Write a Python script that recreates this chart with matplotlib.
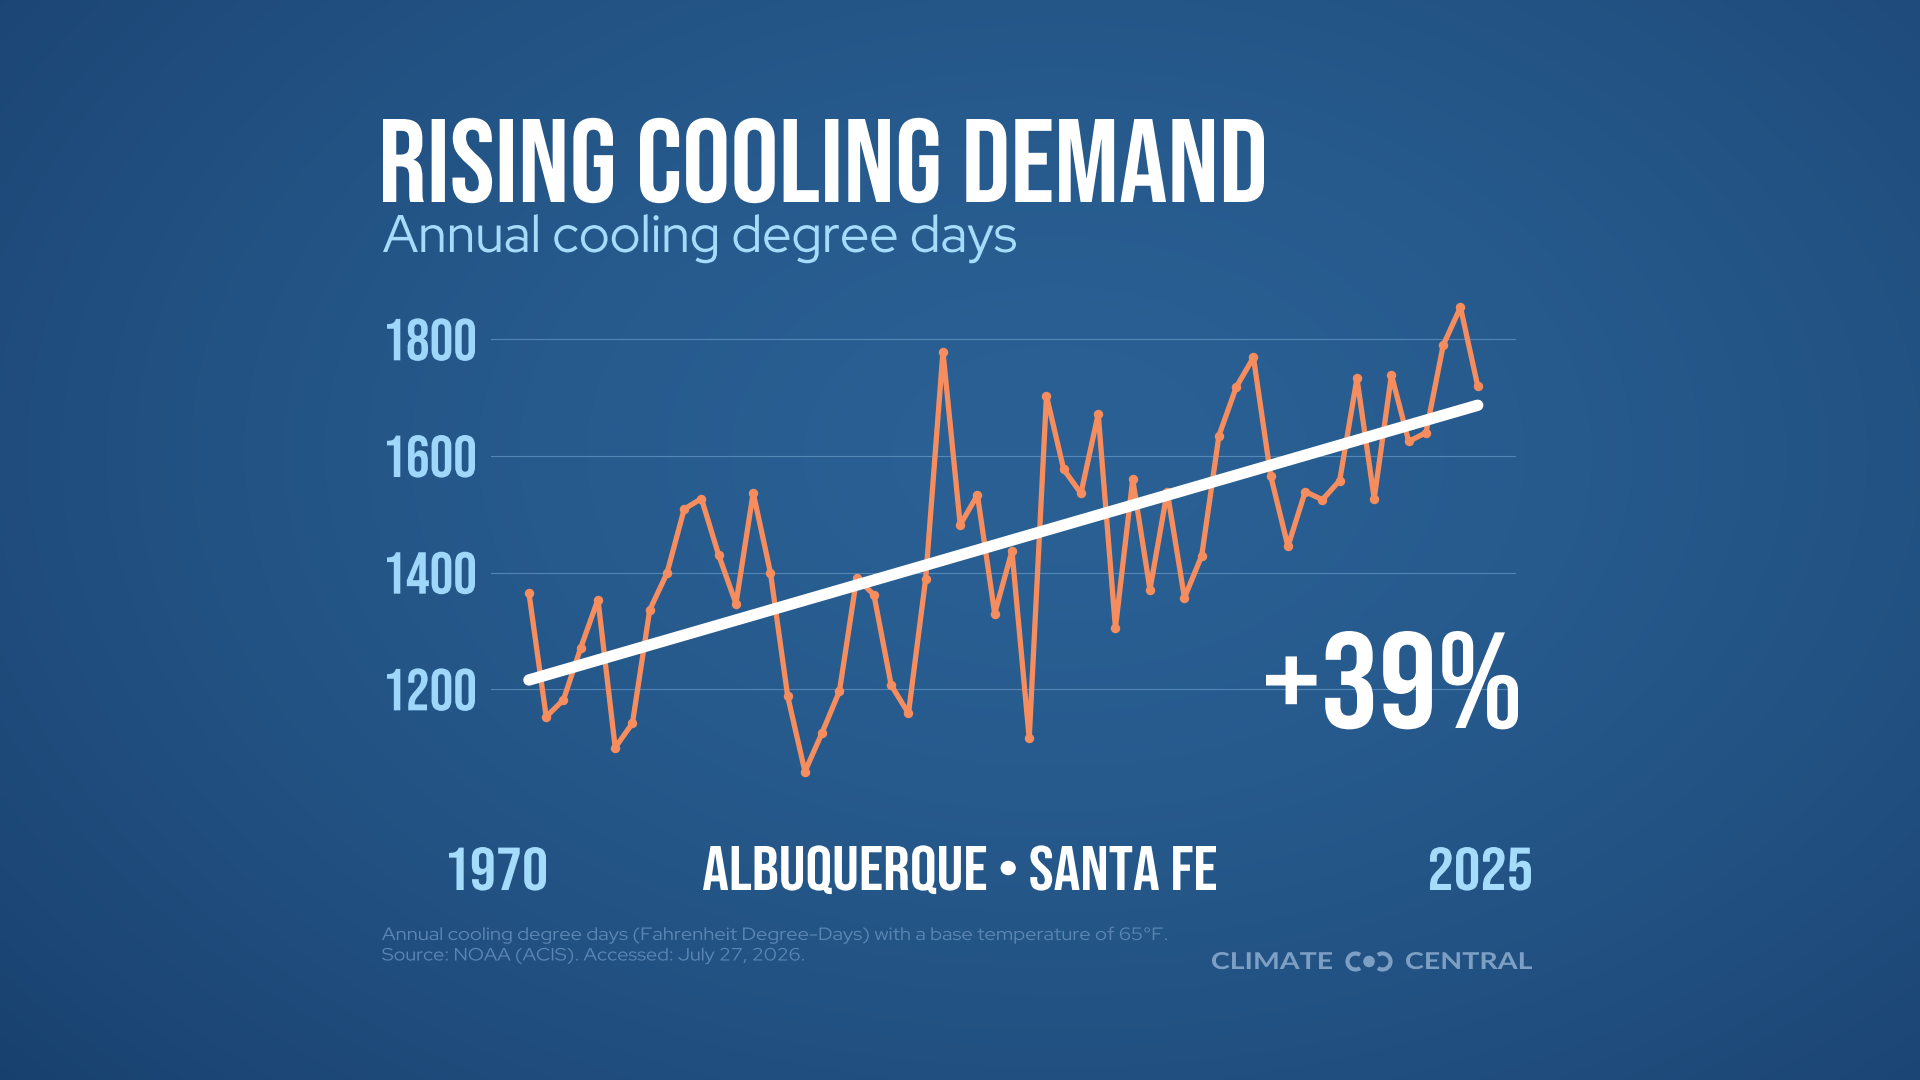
import numpy as np
import matplotlib
matplotlib.use("Agg")
import matplotlib.pyplot as plt
from matplotlib import font_manager
from matplotlib.font_manager import FontProperties
from matplotlib.textpath import TextPath
from matplotlib.patheffects import AbstractPathEffect
from matplotlib.transforms import Affine2D, ScaledTranslation, blended_transform_factory
from matplotlib.patches import Circle, Arc

# ---------------- data ----------------
years = list(range(1970, 2026))
cooling_degree_days = [
    1365, 1153, 1182, 1271, 1354, 1100, 1142, 1336, 1399, 1509,
    1527, 1430, 1347, 1537, 1400, 1188, 1059, 1126, 1197, 1391,
    1362, 1207, 1159, 1390, 1779, 1482, 1533, 1330, 1437, 1116,
    1703, 1577, 1536, 1672, 1305, 1560, 1371, 1539, 1357, 1429,
    1635, 1718, 1769, 1566, 1445, 1539, 1525, 1558, 1733, 1527,
    1739, 1625, 1640, 1790, 1855, 1720,
]
trend_years = [1970, 2025]
trend_values = [1216, 1687]
y_ticks = [1200, 1400, 1600, 1800]
y_tick_labels = ["1200", "1400", "1600", "1800"]

title = "RISING COOLING DEMAND"
subtitle = "Annual cooling degree days"
location = "ALBUQUERQUE \u2022 SANTA FE"
start_label = "1970"
end_label = "2025"
change_label = "+39%"
note_line1 = "Annual cooling degree days (Fahrenheit Degree-Days) with a base temperature of 65\u00b0F."
note_line2 = "Source: NOAA (ACIS). Accessed: July 27, 2026."
brand_left = "CLIMATE"
brand_right = "CENTRAL"

# ---------------- setup ----------------
DPI = 100
W, H = 1920, 1080
fig = plt.figure(figsize=(W / DPI, H / DPI), dpi=DPI)


def _w(f):
    w = f.weight
    if isinstance(w, str):
        w = font_manager.weight_dict.get(w, 400)
    return w


def pick(cands, minw=0):
    for c in cands:
        if any(f.name == c and _w(f) >= minw for f in font_manager.fontManager.ttflist):
            return c
    return "DejaVu Sans"


COND = pick(["Bebas Neue", "Oswald", "Roboto Condensed", "Liberation Sans Narrow",
             "Roboto", "Inter", "DejaVu Sans"])
SANS = pick(["Red Hat Display", "Lato", "Open Sans", "Noto Sans"])
BRAND = pick(["Red Hat Display", "Montserrat", "Lato", "Inter", "Open Sans"], 700)


class HScale(AbstractPathEffect):
    """Horizontally scale text glyphs around the line origin."""

    def __init__(self, sx):
        super().__init__()
        self.sx = sx

    def draw_path(self, renderer, gc, tpath, affine, rgbFace=None):
        renderer.draw_path(gc, tpath, Affine2D().scale(self.sx, 1.0) + affine, rgbFace)


def fit_params(s, family, weight, cap_px, width_px, ref="H"):
    fp = FontProperties(family=family, weight=weight)
    ext_ref = TextPath((0, 0), ref, size=100, prop=fp).get_extents()
    size_px = cap_px / (ext_ref.y1 / 100.0)
    ext = TextPath((0, 0), s, size=size_px, prop=fp).get_extents()
    sx = width_px / ext.width if width_px else 1.0
    return fp, size_px, sx, ext.x0


def put_text(ax, x, y, s, family, weight, cap_px, width_px, color, ref="H",
             transform=None, params=None, zorder=5):
    if params is None:
        fp, size_px, sx, x0 = fit_params(s, family, weight, cap_px, width_px, ref)
    else:
        fp, size_px, sx = params
        x0 = TextPath((0, 0), s, size=size_px, prop=fp).get_extents().x0
    if transform is None:
        transform = ax.transData
    tr = transform + ScaledTranslation(-x0 * sx / DPI, 0, fig.dpi_scale_trans)
    return ax.text(x, y, s, fontproperties=fp, fontsize=size_px * 72.0 / DPI,
                   color=color, ha="left", va="baseline", transform=tr,
                   path_effects=[HScale(sx)], clip_on=False, zorder=zorder)


# ---------------- background ----------------
ax_bg = fig.add_axes([0, 0, 1, 1], zorder=0)
ax_bg.set_axis_off()
gx, gy = np.meshgrid(np.linspace(0, 1, 480), np.linspace(0, 1, 270))
c_center = np.array([0x2a, 0x60, 0x94]) / 255.0
c_edge = np.array([0x16, 0x3c, 0x69]) / 255.0
d = np.sqrt(((gx - 0.55) / 0.80) ** 2 + ((gy - 0.42) / 0.95) ** 2)
t = np.clip(d, 0, 1) ** 1.6
img = c_center[None, None, :] * (1 - t[..., None]) + c_edge[None, None, :] * t[..., None]
ax_bg.imshow(img, extent=[0, 1, 0, 1], aspect="auto", origin="upper",
             interpolation="bicubic")
ax_bg.set_xlim(0, 1)
ax_bg.set_ylim(0, 1)

# ---------------- chart ----------------
px_left, px_right = 491, 1516
px_top, px_bottom = 298.5, 806.0
ax = fig.add_axes([px_left / W, 1 - px_bottom / H, (px_right - px_left) / W,
                   (px_bottom - px_top) / H], zorder=1)
ax.patch.set_alpha(0)
ax.set_xlim(1967.8, 2027.22)
ax.set_ylim(1000, 1870)
for sp in ax.spines.values():
    sp.set_visible(False)
ax.set_xticks([])
ax.set_yticks(y_ticks)
ax.set_yticklabels([])
ax.tick_params(length=0)
ax.grid(axis="y", color="#8dbbe6", alpha=0.45, linewidth=0.8)
ax.set_axisbelow(True)

ax.plot(years, cooling_degree_days, color="#f68d5e", linewidth=3.8,
        marker="o", markersize=6.8, markeredgewidth=0, zorder=3,
        solid_joinstyle="round")
ax.plot(trend_years, trend_values, color="white", linewidth=8.2,
        solid_capstyle="round", zorder=4)

# y tick labels (condensed)
tick_fp, tick_size, tick_sx, _ = fit_params("1800", COND, "bold", 42, 88, ref="0")
ytrans = blended_transform_factory(ax.transAxes, ax.transData) + \
    ScaledTranslation(0, -21.0 / DPI, fig.dpi_scale_trans)
for v, lab in zip(y_ticks, y_tick_labels):
    put_text(ax, (387 - px_left) / (px_right - px_left), v, lab, COND, "bold",
             42, None, "#9fd7fb", transform=ytrans,
             params=(tick_fp, tick_size, tick_sx))

# ---------------- foreground texts ----------------
ax_fg = fig.add_axes([0, 0, 1, 1], zorder=3)
ax_fg.set_axis_off()
ax_fg.patch.set_alpha(0)
ax_fg.set_xlim(0, W)
ax_fg.set_ylim(H, 0)

put_text(ax_fg, 383, 202, title, COND, "bold", 83, 881, "white")
put_text(ax_fg, 383, 252, subtitle, SANS, "normal", 37, 633, "#a5dbfb")
put_text(ax_fg, 1266, 728, change_label, COND, "bold", 97, 252, "white", ref="0")
put_text(ax_fg, 449, 890, start_label, COND, "bold", 43, 97, "#a5dbfb", ref="0")
put_text(ax_fg, 1430, 890, end_label, COND, "bold", 43, 101, "#a5dbfb", ref="0")
put_text(ax_fg, 703, 890, location, COND, "bold", 44, 513, "white")

note_color = "#5b86b3"
put_text(ax_fg, 382, 940, note_line1, SANS, "normal", 12.5, 785, note_color)
put_text(ax_fg, 382, 960.5, note_line2, SANS, "normal", 12.5, 422, note_color)

brand_color = "#7d9fc3"
put_text(ax_fg, 1212, 969, brand_left, BRAND, "bold", 16.8, 120, brand_color)
put_text(ax_fg, 1406, 969, brand_right, BRAND, "bold", 16.8, 126, brand_color)
# logo mark: two open rings around a filled dot
ax_fg.add_patch(Arc((1355.5, 961.5), 16, 16, theta1=55, theta2=305,
                    edgecolor=brand_color, linewidth=3.0, zorder=5))
ax_fg.add_patch(Arc((1382.5, 961.5), 16, 16, theta1=-125, theta2=125,
                    edgecolor=brand_color, linewidth=3.0, zorder=5))
ax_fg.add_patch(Circle((1369, 961.5), 5.8, facecolor=brand_color,
                       edgecolor="none", zorder=5))

fig.savefig("out.png", dpi=DPI)
